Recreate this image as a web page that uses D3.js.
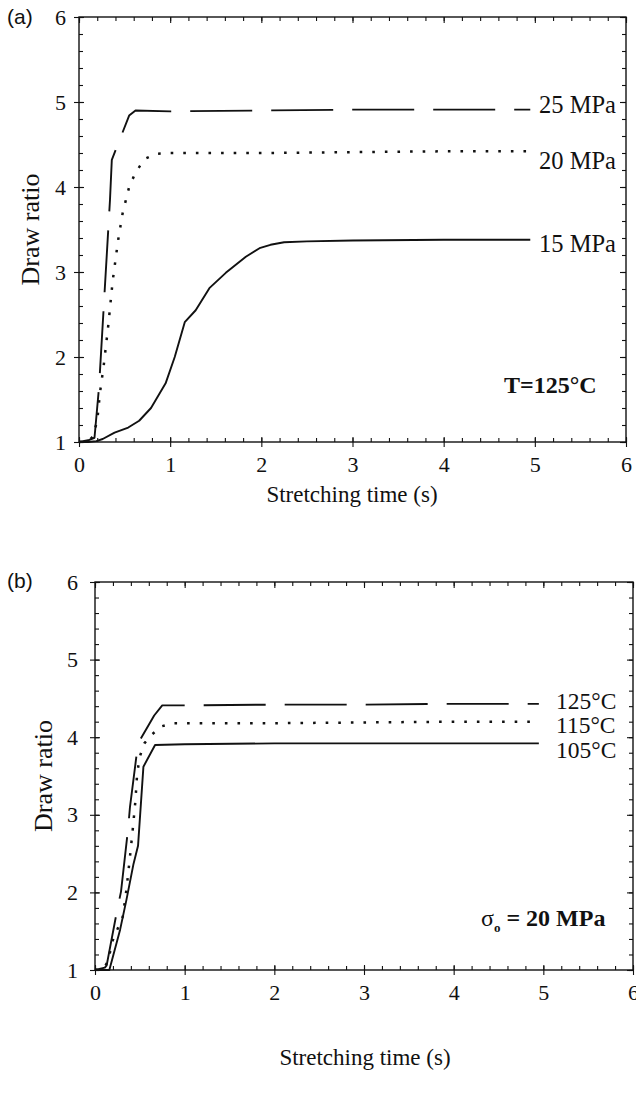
<!DOCTYPE html>
<html>
<head>
<meta charset="utf-8">
<script src="https://cdn.jsdelivr.net/npm/d3@7"></script>
<style>
  html, body { margin: 0; padding: 0; background: #fff; }
  svg { display: block; }
  .serif { font-family: "Liberation Serif", "Times New Roman", serif; }
</style>
</head>
<body>
<svg id="fig" width="636" height="1095"></svg>
<script>
// ---- Panel (a): T = 125 °C, three applied stresses ----
const stressLabels = ["25 MPa", "20 MPa", "15 MPa"];
const stressLabelLevels = [4.97, 4.31, 3.34];

const t25  = [0, 0.10, 0.17, 0.22, 0.28, 0.34, 0.36, 0.55, 0.62, 1.0, 2.0, 3.0, 4.0, 4.95];
const dr25 = [1.0, 1.02, 1.05, 1.65, 2.75, 3.85, 4.32, 4.84, 4.90, 4.89, 4.90, 4.91, 4.91, 4.91];

const t20  = [0, 0.10, 0.15, 0.20, 0.23, 0.27, 0.32, 0.37, 0.43, 0.48, 0.55, 0.62, 0.72, 0.85, 1.0, 2.0, 3.0, 4.0, 4.95];
const dr20 = [1.0, 1.01, 1.06, 1.25, 1.58, 1.89, 2.36, 2.90, 3.38, 3.70, 4.00, 4.17, 4.33, 4.39, 4.40, 4.40, 4.41, 4.42, 4.42];

const t15  = [0, 0.10, 0.19, 0.26, 0.39, 0.54, 0.66, 0.79, 0.95, 1.05, 1.16, 1.28, 1.43, 1.61, 1.83, 1.98, 2.10, 2.25, 2.50, 3.0, 4.0, 4.95];
const dr15 = [1.0, 1.0, 1.01, 1.035, 1.11, 1.17, 1.25, 1.40, 1.69, 2.00, 2.41, 2.55, 2.81, 2.99, 3.18, 3.28, 3.32, 3.35, 3.36, 3.37, 3.38, 3.38];

// ---- Panel (b): sigma0 = 20 MPa, three temperatures ----
const tempLabels = ["125°C", "115°C", "105°C"];
const tempLabelLevels = [4.47, 4.155, 3.84];

const t125  = [0, 0.11, 0.13, 0.24, 0.29, 0.37, 0.39, 0.48, 0.61, 0.66, 0.75, 1.0, 2.0, 3.0, 4.0, 4.95];
const dr125 = [1.0, 1.03, 1.06, 1.73, 2.01, 2.83, 3.10, 3.92, 4.18, 4.28, 4.41, 4.41, 4.42, 4.42, 4.43, 4.43];

const t115  = [0, 0.10, 0.15, 0.19, 0.31, 0.35, 0.39, 0.42, 0.45, 0.47, 0.50, 0.55, 0.63, 0.74, 0.87, 1.0, 2.0, 3.0, 4.0, 4.95];
const dr115 = [1.0, 1.02, 1.13, 1.36, 1.69, 2.03, 2.46, 2.80, 3.17, 3.53, 3.75, 3.92, 4.03, 4.14, 4.18, 4.18, 4.18, 4.19, 4.20, 4.20];

const t105  = [0, 0.10, 0.16, 0.28, 0.35, 0.43, 0.48, 0.54, 0.67, 1.0, 2.0, 3.0, 4.0, 4.95];
const dr105 = [1.0, 1.0, 1.0, 1.52, 1.90, 2.37, 2.60, 3.62, 3.90, 3.91, 3.92, 3.92, 3.92, 3.92];

const xTicks = [0, 1, 2, 3, 4, 5, 6];
const yTicks = [1, 2, 3, 4, 5, 6];

// long dash, dotted, solid
const dashStyles = ["62,19", "2.6,10", null];

const svg = d3.select("#fig");

function drawPanel(cfg) {
  const x = d3.scaleLinear().domain([0, 6]).range([cfg.left, cfg.right]);
  const y = d3.scaleLinear().domain([1, 6]).range([cfg.bottom, cfg.top]);
  const g = svg.append("g");

  const minorX = d3.range(0, 6.0001, 0.2).map(v => +v.toFixed(2));
  const minorY = d3.range(1, 6.0001, 0.2).map(v => +v.toFixed(2));

  const strokeAxis = (sel) => {
    sel.select(".domain").remove();
    sel.selectAll("line").attr("stroke", "#111").attr("stroke-width", 1.1);
  };
  const styleLabels = (sel) => sel.selectAll("text")
    .attr("class", "serif").attr("font-size", 22).attr("fill", "#111");

  // minor ticks, all four sides, pointing inward
  g.append("g").attr("transform", `translate(0,${cfg.bottom})`)
    .call(d3.axisBottom(x).tickValues(minorX).tickSize(-4).tickFormat(""))
    .call(strokeAxis);
  g.append("g").attr("transform", `translate(0,${cfg.top})`)
    .call(d3.axisTop(x).tickValues(minorX).tickSize(-4).tickFormat(""))
    .call(strokeAxis);
  g.append("g").attr("transform", `translate(${cfg.left},0)`)
    .call(d3.axisLeft(y).tickValues(minorY).tickSize(-4).tickFormat(""))
    .call(strokeAxis);
  g.append("g").attr("transform", `translate(${cfg.right},0)`)
    .call(d3.axisRight(y).tickValues(minorY).tickSize(-4).tickFormat(""))
    .call(strokeAxis);

  // major ticks crossing the bottom and left axes, with labels
  g.append("g").attr("transform", `translate(0,${cfg.bottom})`)
    .call(d3.axisBottom(x).tickValues(xTicks).tickSizeInner(5).tickSizeOuter(0).tickPadding(cfg.xPad).tickFormat(d3.format("d")))
    .call(strokeAxis)
    .call(styleLabels);
  g.append("g").attr("transform", `translate(0,${cfg.bottom})`)
    .call(d3.axisBottom(x).tickValues(xTicks).tickSize(-5).tickFormat(""))
    .call(strokeAxis);
  g.append("g").attr("transform", `translate(${cfg.left},0)`)
    .call(d3.axisLeft(y).tickValues(yTicks).tickSizeInner(5).tickSizeOuter(0).tickPadding(cfg.yPad).tickFormat(d3.format("d")))
    .call(strokeAxis)
    .call(styleLabels);
  g.append("g").attr("transform", `translate(${cfg.left},0)`)
    .call(d3.axisLeft(y).tickValues(yTicks).tickSize(-5).tickFormat(""))
    .call(strokeAxis);
  g.append("g").attr("transform", `translate(0,${cfg.top})`)
    .call(d3.axisTop(x).tickValues(xTicks).tickSize(-6).tickFormat(""))
    .call(strokeAxis);
  g.append("g").attr("transform", `translate(${cfg.right},0)`)
    .call(d3.axisRight(y).tickValues(yTicks).tickSize(-6).tickFormat(""))
    .call(strokeAxis);

  // frame
  g.append("rect")
    .attr("x", cfg.left).attr("y", cfg.top)
    .attr("width", cfg.right - cfg.left).attr("height", cfg.bottom - cfg.top)
    .attr("fill", "none").attr("stroke", "#111").attr("stroke-width", 1.4);

  // curves
  const line = d3.line().x(d => x(d[0])).y(d => y(d[1]));
  cfg.series.forEach((s, i) => {
    const pts = s.t.map((tv, k) => [tv, s.v[k]]);
    g.append("path")
      .datum(pts)
      .attr("d", line)
      .attr("fill", "none")
      .attr("stroke", "#111")
      .attr("stroke-width", i === 1 ? 2.5 : 1.9)
      .attr("stroke-linejoin", "round")
      .attr("stroke-dasharray", dashStyles[i]);
  });

  // curve labels
  g.selectAll("text.curve")
    .data(cfg.labels)
    .join("text")
    .attr("class", "serif")
    .attr("x", cfg.labelX)
    .attr("y", (d, i) => y(cfg.labelLevels[i]))
    .attr("dy", "0.35em")
    .attr("font-size", cfg.labelSize)
    .attr("fill", "#111")
    .text(d => d);

  // axis titles
  g.append("text")
    .attr("class", "serif")
    .attr("x", cfg.xTitleX).attr("y", cfg.xTitleY)
    .attr("text-anchor", "middle")
    .attr("font-size", 23).attr("fill", "#111")
    .text("Stretching time (s)");
  g.append("text")
    .attr("class", "serif")
    .attr("transform", `translate(${cfg.yTitleX},${(cfg.top + cfg.bottom) / 2}) rotate(-90)`)
    .attr("text-anchor", "middle")
    .attr("dy", "0.35em")
    .attr("font-size", 26).attr("fill", "#111")
    .text("Draw ratio");

  // panel tag
  g.append("text")
    .attr("x", 7).attr("y", cfg.tagY)
    .attr("dy", "0.35em")
    .attr("font-family", "'Liberation Sans', Arial, sans-serif")
    .attr("font-size", 21).attr("fill", "#111")
    .text(cfg.tag);

  return { g, x, y };
}

const pa = drawPanel({
  left: 79, right: 626, top: 17, bottom: 442,
  xPad: 9, yPad: 8,
  series: [{ t: t25, v: dr25 }, { t: t20, v: dr20 }, { t: t15, v: dr15 }],
  labels: stressLabels, labelLevels: stressLabelLevels, labelX: 539, labelSize: 24.5,
  xTitleX: 352, xTitleY: 502, yTitleX: 30,
  tag: "(a)", tagY: 17
});
pa.g.append("text")
  .attr("class", "serif")
  .attr("x", 504).attr("y", 385).attr("dy", "0.35em")
  .attr("font-size", 24).attr("font-weight", "bold").attr("fill", "#111")
  .text("T=125°C");

const pb = drawPanel({
  left: 95, right: 633, top: 582, bottom: 970,
  xPad: 9, yPad: 12,
  series: [{ t: t125, v: dr125 }, { t: t115, v: dr115 }, { t: t105, v: dr105 }],
  labels: tempLabels, labelLevels: tempLabelLevels, labelX: 556, labelSize: 23.5,
  xTitleX: 365, xTitleY: 1065, yTitleX: 43,
  tag: "(b)", tagY: 581
});
const sig = pb.g.append("text")
  .attr("class", "serif")
  .attr("x", 481).attr("y", 918).attr("dy", "0.35em")
  .attr("font-size", 24).attr("font-weight", "bold").attr("fill", "#111");
sig.append("tspan").attr("font-weight", "normal").text("σ");
sig.append("tspan").attr("font-size", 13).attr("dy", 6).text("o");
sig.append("tspan").attr("dy", -6).text(" = 20 MPa");
</script>
</body>
</html>
